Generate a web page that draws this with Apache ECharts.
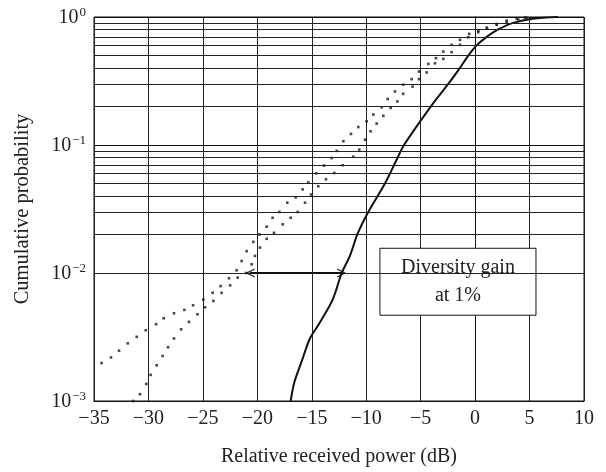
<!DOCTYPE html>
<html><head><meta charset="utf-8">
<script src="https://cdn.jsdelivr.net/npm/echarts@6/dist/echarts.min.js"></script>
<style>html,body{margin:0;padding:0;background:#fff}#c{width:606px;height:472px}</style>
</head><body><div id="c"></div>
<script>
const xTicks = [-35, -30, -25, -20, -15, -10, -5, 0, 5, 10];
const yDecades = [0.001, 0.01, 0.1, 1];
const minorGrid = [0.002,0.003,0.004,0.005,0.006,0.007,0.008,0.009,
  0.02,0.03,0.04,0.05,0.06,0.07,0.08,0.09,
  0.2,0.3,0.4,0.5,0.6,0.7,0.8,0.9];
const solidCurve = [[-16.94,0.001],[-16.6,0.0014],[-15.93,0.00204],[-15.17,0.00308],[-14.34,0.004],[-13.08,0.0062],[-12.25,0.01],[-11.5,0.0136],[-10.79,0.0203],[-9.81,0.03],[-8.28,0.05],[-7.2,0.077],[-6.53,0.1],[-3.99,0.204],[-2.46,0.3],[-1.39,0.4],[-0.63,0.5],[0.14,0.6],[1.06,0.7],[2.13,0.8],[3.5,0.9],[5.3,0.97],[7.6,1.0]];
const dottedA = [[-34.3,0.00198],[-33.44,0.00219],[-32.7,0.00247],[-31.9,0.00282],[-31.08,0.00317],[-30.25,0.00357],[-29.3,0.00398],[-28.6,0.00443],[-27.65,0.00485],[-26.7,0.00515],[-25.9,0.0056],[-24.96,0.0062],[-24.1,0.007],[-23.37,0.0079],[-22.6,0.0091],[-21.9,0.0105],[-21.44,0.0124],[-20.98,0.0148],[-20.37,0.0175],[-19.8,0.02],[-19.14,0.023],[-18.6,0.027],[-17.98,0.03],[-17.25,0.0354],[-16.48,0.039],[-15.84,0.045],[-15.32,0.051],[-14.6,0.06],[-13.88,0.069],[-13.18,0.079],[-12.7,0.09],[-12.1,0.107],[-11.4,0.122],[-10.73,0.138],[-9.96,0.153],[-9.35,0.173],[-8.58,0.197],[-8.03,0.229],[-7.36,0.262],[-6.6,0.296],[-5.83,0.327],[-5.16,0.375],[-4.3,0.43],[-3.6,0.477],[-2.92,0.537],[-2.16,0.606],[-1.39,0.663],[-0.54,0.738],[0.29,0.78],[1.06,0.826],[1.98,0.883],[2.9,0.937],[3.82,0.97],[4.58,0.99]];
const dottedB = [[-31.4,0.001],[-30.78,0.00113],[-30.2,0.00136],[-29.8,0.0016],[-29.24,0.0019],[-28.7,0.00225],[-28.2,0.00263],[-27.65,0.00308],[-27.0,0.00363],[-26.28,0.00415],[-25.5,0.00476],[-24.8,0.0054],[-24.04,0.00605],[-23.28,0.007],[-22.5,0.008],[-21.8,0.0092],[-21.04,0.01],[-20.52,0.0117],[-20.22,0.0136],[-19.76,0.0158],[-19.14,0.0185],[-18.47,0.0206],[-17.67,0.024],[-16.94,0.027],[-16.3,0.03],[-15.62,0.0354],[-15.07,0.041],[-14.4,0.0476],[-13.7,0.054],[-12.93,0.0605],[-12.16,0.0695],[-11.19,0.081],[-10.64,0.092],[-10.11,0.11],[-9.6,0.128],[-9.04,0.147],[-8.43,0.169],[-7.75,0.195],[-7.14,0.219],[-6.6,0.251],[-5.74,0.286],[-5.16,0.327],[-4.45,0.369],[-3.69,0.435],[-2.92,0.471],[-2.16,0.531],[-1.39,0.606],[-0.63,0.695],[0.29,0.76],[1.11,0.81],[1.98,0.87],[2.9,0.91],[3.97,0.955],[4.73,0.985]];
const gainArrow = [[-20.67, 0.01], [-12.25, 0.01]];
const boxCorners = [[-8.74, 0.0156], [5.59, 0.00468]];
const boxText = 'Diversity gain\nat 1%';
const xTitle = 'Relative received power (dB)';
const yTitle = 'Cumulative probability';

const FONT = '"Liberation Serif", "DejaVu Serif", serif';
const chart = echarts.init(document.getElementById('c'));
chart.setOption({
  animation: false,
  backgroundColor: '#fff',
  grid: {left: 94, right: 22, top: 17, bottom: 70, show: true, borderColor: '#111', borderWidth: 1},
  xAxis: {
    type: 'value', min: xTicks[0], max: xTicks[xTicks.length-1], interval: 5,
    name: xTitle, nameLocation: 'middle', nameGap: 46,
    nameTextStyle: {fontFamily: FONT, fontSize: 20, color: '#222'},
    axisLine: {show: true, lineStyle: {color: '#111', width: 1}},
    axisTick: {show: false},
    splitLine: {show: true, lineStyle: {color: '#222', width: 1}},
    axisLabel: {fontFamily: FONT, fontSize: 20, color: '#222', margin: 8,
      formatter: v => v < 0 ? '\u2212' + (-v) : String(v)}
  },
  yAxis: {
    type: 'log', logBase: 10, min: yDecades[0], max: yDecades[yDecades.length-1],
    name: yTitle, nameLocation: 'middle', nameGap: 61,
    nameTextStyle: {fontFamily: FONT, fontSize: 20.5, color: '#222'},
    axisLine: {show: true, lineStyle: {color: '#111', width: 1}},
    axisTick: {show: false},
    splitLine: {show: true, lineStyle: {color: '#111', width: 1}},
    axisLabel: {margin: 8,
      formatter: v => {
        const e = Math.round(Math.log10(v));
        return '{b|10}{s|' + (e === 0 ? '0' : '\u2212' + (-e)) + '}';
      },
      rich: {
        b: {fontFamily: FONT, fontSize: 20, color: '#222', lineHeight: 22, verticalAlign: 'bottom'},
        s: {fontFamily: FONT, fontSize: 13, color: '#222', lineHeight: 16, verticalAlign: 'top', padding: [0,0,0,1]}
      }
    }
  },
  series: [
    {
      type: 'scatter', data: [], silent: true, z: 1,
      markLine: {
        silent: true, symbol: 'none', animation: false,
        label: {show: false},
        lineStyle: {type: 'solid', color: '#222', width: 1},
        data: minorGrid.map(v => ({yAxis: v}))
      }
    },
    {
      type: 'scatter', data: dottedA, symbol: 'rect', symbolSize: 2.6, silent: true, z: 3,
      itemStyle: {color: '#1a1a1a'}
    },
    {
      type: 'scatter', data: dottedB, symbol: 'rect', symbolSize: 2.6, silent: true, z: 3,
      itemStyle: {color: '#1a1a1a'}
    },
    {
      type: 'line', data: solidCurve, showSymbol: false, smooth: 0.3, silent: true, z: 3,
      lineStyle: {color: '#111', width: 2}
    },
    {
      type: 'scatter', data: [], silent: true, z: 6,
      markLine: {
        silent: true, animation: false,
        symbol: ['path://M0,10 L5,0 L10,10 L8.6,10 L5,2.8 L1.4,10 Z', 'path://M0,10 L5,0 L10,10 L8.6,10 L5,2.8 L1.4,10 Z'],
        symbolSize: [9, 9],
        label: {show: false},
        lineStyle: {type: 'solid', color: '#111', width: 1.8},
        data: [[{coord: gainArrow[0]}, {coord: gainArrow[1]}]]
      },
      markArea: {
        silent: true,
        itemStyle: {color: '#fff', borderColor: '#111', borderWidth: 1, opacity: 1},
        label: {show: true, position: 'inside', formatter: boxText, fontFamily: FONT, fontSize: 20,
          lineHeight: 28, color: '#222', align: 'center', verticalAlign: 'middle'},
        data: [[{coord: boxCorners[0]}, {coord: boxCorners[1]}]]
      }
    }
  ]
});
</script></body></html>
